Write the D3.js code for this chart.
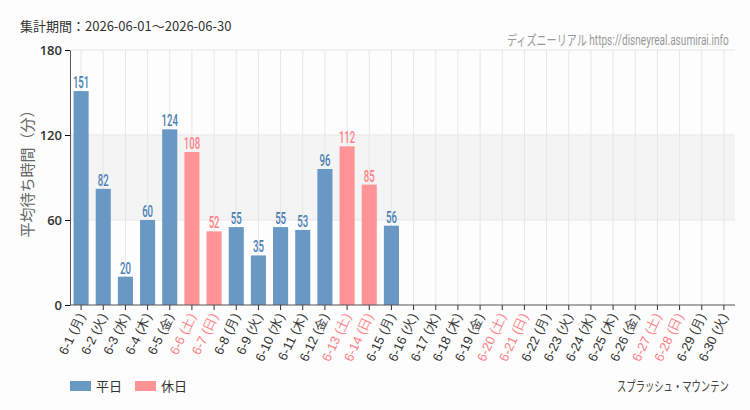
<!DOCTYPE html>
<html>
<head>
<meta charset="utf-8">
<script src="https://cdn.jsdelivr.net/npm/d3@7"></script>
<style>
	body { margin: 0; background: #fcfdfc; }
	svg { display: block; font-family: "Noto Sans CJK JP", "Noto Sans", sans-serif; }
	.narrow { font-family: "Roboto", "Noto Sans CJK JP", sans-serif; }
</style>
</head>
<body>
<svg id="chart" width="750" height="410"></svg>
<script>
'use strict';

var days = ['6-1','6-2','6-3','6-4','6-5','6-6','6-7','6-8','6-9','6-10','6-11','6-12','6-13','6-14','6-15',
	'6-16','6-17','6-18','6-19','6-20','6-21','6-22','6-23','6-24','6-25','6-26','6-27','6-28','6-29','6-30'];
var weekdays = ['月','火','水','木','金','土','日','月','火','水','木','金','土','日','月',
	'火','水','木','金','土','日','月','火','水','木','金','土','日','月','火'];
var holiday = [0,0,0,0,0,1,1,0,0,0,0,0,1,1,0, 0,0,0,0,1,1,0,0,0,0,0,1,1,0,0];
var waits = [151,82,20,60,124,108,52,55,35,55,53,96,112,85,56,
	null,null,null,null,null,null,null,null,null,null,null,null,null,null,null];
var yTicks = [0, 60, 120, 180];

var blue = '#6a98c4';
var pink = '#ff9396';
var blueText = '#4a7fb5';
var pinkText = '#ff7f85';

var svg = d3.select('#chart');
var margin = {top: 50, right: 15, bottom: 105, left: 70};
var width = 750 - margin.left - margin.right;
var height = 410 - margin.top - margin.bottom;
var g = svg.append('g').attr('transform', 'translate(' + margin.left + ',' + margin.top + ')');

var xscale = d3.scaleBand().domain(days).range([0, width]).paddingInner(0.32).paddingOuter(0.16);
var yscale = d3.scaleLinear().domain([0, 180]).range([height, 0]);

// squeeze a text horizontally so it fills a given width, anchored at its left
var fitText = function(sel, x, y, w) {
	var natural = sel.node().getComputedTextLength();
	sel.attr('transform', 'translate(' + x + ',' + y + ') scale(' + (w / natural) + ',1)');
}

// shaded band 60-120
g.append('rect')
	.attr('x', 0)
	.attr('y', yscale(120))
	.attr('width', width)
	.attr('height', yscale(60) - yscale(120))
	.attr('fill', '#f4f4f4');

// grid
g.selectAll('.vgrid').data(days).enter().append('line')
	.attr('x1', function(d) { return xscale(d) + xscale.bandwidth() / 2; })
	.attr('x2', function(d) { return xscale(d) + xscale.bandwidth() / 2; })
	.attr('y1', 0).attr('y2', height)
	.attr('stroke', '#e6e6e6');
g.selectAll('.hgrid').data(yTicks.slice(1)).enter().append('line')
	.attr('x1', 0).attr('x2', width)
	.attr('y1', function(d) { return yscale(d); })
	.attr('y2', function(d) { return yscale(d); })
	.attr('stroke', '#e6e6e6');

// bars
var data = days.map(function(d, i) { return {day: d, v: waits[i], hol: holiday[i]}; })
	.filter(function(d) { return d.v != null; });

g.selectAll('.bar').data(data).enter().append('rect')
	.attr('x', function(d) { return xscale(d.day); })
	.attr('y', function(d) { return yscale(d.v); })
	.attr('width', xscale.bandwidth())
	.attr('height', function(d) { return height - yscale(d.v); })
	.attr('fill', function(d) { return d.hol ? pink : blue; });

// value labels, condensed
g.selectAll('.val').data(data).enter().append('text')
	.attr('class', 'narrow')
	.attr('transform', function(d) {
		return 'translate(' + (xscale(d.day) + xscale.bandwidth() / 2) + ',' + (yscale(d.v) - 3) + ') scale(0.6,1)';
	})
	.attr('text-anchor', 'middle')
	.style('font-size', '16px')
	.style('font-weight', '500')
	.attr('fill', function(d) { return d.hol ? pinkText : blueText; })
	.text(function(d) { return d.v; });

// axes
var yaxis = g.append('g')
	.call(d3.axisLeft(yscale).tickValues(yTicks).tickSize(5).tickSizeOuter(0));
yaxis.selectAll('text').style('font-size', '13px').attr('fill', '#333').style('font-weight', '600')
	.style('font-family', '"Open Sans", sans-serif');
yaxis.select('.domain').attr('stroke', '#555');

var xaxis = g.append('g')
	.attr('transform', 'translate(0,' + height + ')')
	.call(d3.axisBottom(xscale).tickSize(5).tickSizeOuter(0));
xaxis.select('.domain').attr('stroke', '#555').attr('d', 'M0,0H' + width);
xaxis.selectAll('.tick line').attr('stroke', '#333');
xaxis.selectAll('text')
	.style('font-size', '13px')
	.attr('text-anchor', 'end')
	.attr('dy', '0.35em')
	.attr('transform', 'translate(0,9) rotate(-65)')
	.attr('x', 0).attr('y', 0)
	.attr('fill', function(d, i) { return holiday[i] ? pinkText : '#333'; })
	.text(function(d, i) { return d + ' (' + weekdays[i] + ')'; });

// y title
svg.append('text')
	.attr('transform', 'translate(33,170) rotate(-90)')
	.attr('text-anchor', 'middle')
	.style('font-size', '15px')
	.attr('fill', '#666')
	.text('平均待ち時間（分）');

// header
svg.append('text')
	.attr('x', 20).attr('y', 31)
	.style('font-size', '13px')
	.attr('fill', '#333')
	.text('集計期間：2026-06-01～2026-06-30');
svg.append('text')
	.attr('class', 'narrow')
	.style('font-size', '14px')
	.attr('fill', '#999')
	.text('ディズニーリアル https://disneyreal.asumirai.info')
	.call(fitText, 507, 45, 222);

// legend
var legend = [{name: '平日', color: blue}, {name: '休日', color: pink}];
var lg = svg.selectAll('.legend').data(legend).enter().append('g')
	.attr('transform', function(d, i) { return 'translate(' + (70 + i * 65) + ',381)'; });
lg.append('rect').attr('width', 21).attr('height', 10).attr('fill', function(d) { return d.color; });
lg.append('text').attr('x', 26).attr('y', 10).style('font-size', '13px').attr('fill', '#333')
	.text(function(d) { return d.name; });

svg.append('text')
	.attr('class', 'narrow')
	.style('font-size', '14px')
	.attr('fill', '#444')
	.text('スプラッシュ・マウンテン')
	.call(fitText, 617, 391, 112);
</script>
</body>
</html>
